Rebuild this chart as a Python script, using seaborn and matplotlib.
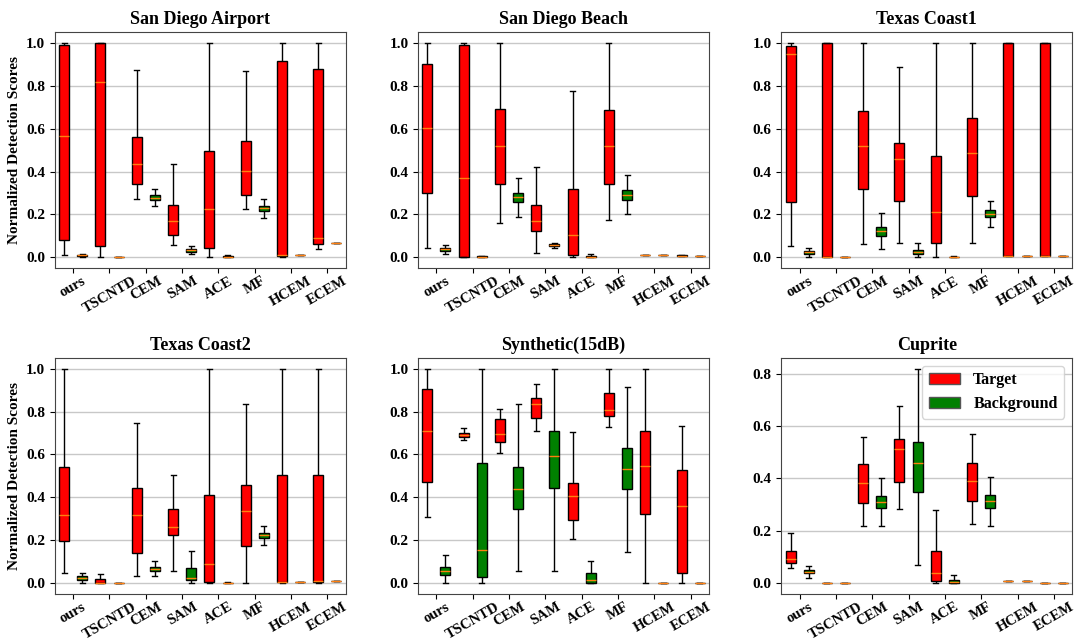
import pandas as pd
import matplotlib
matplotlib.use("Agg")
import matplotlib.pyplot as plt
from matplotlib.patches import Patch
import seaborn as sns

methods = ["ours", "TSCNTD", "CEM", "SAM", "ACE", "MF", "HCEM", "ECEM"]
groups = ["Target", "Background"]

# each entry: [whisker low, q1, median, q3, whisker high]
sd_airport_target = [
    [0.011, 0.083, 0.564, 0.991, 1.0],
    [0.0, 0.054, 0.816, 1.0, 1.0],
    [0.273, 0.344, 0.437, 0.563, 0.873],
    [0.06, 0.103, 0.169, 0.244, 0.436],
    [0.0, 0.046, 0.225, 0.497, 1.0],
    [0.225, 0.291, 0.402, 0.544, 0.868],
    [0.0, 0.006, 0.01, 0.913, 1.0],
    [0.038, 0.064, 0.09, 0.876, 1.0],
]
sd_airport_background = [
    [0.003, 0.005, 0.009, 0.013, 0.016],
    [0.0, 0.0, 0.001, 0.001, 0.001],
    [0.239, 0.268, 0.279, 0.29, 0.317],
    [0.015, 0.026, 0.034, 0.04, 0.052],
    [0.0, 0.0, 0.003, 0.006, 0.009],
    [0.184, 0.216, 0.23, 0.239, 0.273],
    [0.009, 0.009, 0.009, 0.009, 0.009],
    [0.066, 0.066, 0.066, 0.066, 0.066],
]

sd_beach_target = [
    [0.044, 0.3, 0.604, 0.9, 1.0],
    [0.0, 0.0, 0.37, 0.991, 1.0],
    [0.16, 0.344, 0.518, 0.69, 1.0],
    [0.02, 0.123, 0.169, 0.242, 0.42],
    [0.0, 0.012, 0.104, 0.319, 0.776],
    [0.176, 0.342, 0.518, 0.687, 1.0],
    [0.011, 0.011, 0.011, 0.011, 0.011],
    [0.005, 0.006, 0.008, 0.01, 0.011],
]
sd_beach_background = [
    [0.017, 0.032, 0.04, 0.046, 0.06],
    [0.002, 0.003, 0.004, 0.005, 0.006],
    [0.19, 0.256, 0.281, 0.302, 0.37],
    [0.045, 0.051, 0.057, 0.061, 0.069],
    [0.0, 0.0, 0.004, 0.008, 0.018],
    [0.2, 0.268, 0.291, 0.314, 0.385],
    [0.011, 0.011, 0.011, 0.011, 0.011],
    [0.006, 0.006, 0.006, 0.006, 0.006],
]

texas1_target = [
    [0.052, 0.256, 0.949, 0.986, 1.0],
    [0.0, 0.0, 0.001, 1.0, 1.0],
    [0.061, 0.317, 0.518, 0.683, 1.0],
    [0.066, 0.261, 0.457, 0.531, 0.885],
    [0.0, 0.066, 0.213, 0.471, 1.0],
    [0.066, 0.285, 0.485, 0.65, 1.0],
    [0.005, 0.006, 0.006, 1.0, 1.0],
    [0.005, 0.006, 0.006, 1.0, 1.0],
]
texas1_background = [
    [0.003, 0.017, 0.023, 0.031, 0.044],
    [0.0, 0.0, 0.0, 0.0, 0.0],
    [0.037, 0.101, 0.123, 0.143, 0.209],
    [0.003, 0.015, 0.026, 0.035, 0.066],
    [0.0, 0.002, 0.003, 0.004, 0.006],
    [0.14, 0.187, 0.202, 0.219, 0.265],
    [0.006, 0.006, 0.006, 0.006, 0.006],
    [0.006, 0.006, 0.006, 0.006, 0.006],
]

texas2_target = [
    [0.049, 0.199, 0.316, 0.543, 1.0],
    [0.0, 0.0, 0.002, 0.021, 0.041],
    [0.034, 0.143, 0.319, 0.445, 0.745],
    [0.055, 0.227, 0.262, 0.345, 0.503],
    [0.0, 0.008, 0.092, 0.413, 1.0],
    [0.0, 0.172, 0.336, 0.46, 0.833],
    [0.0, 0.006, 0.008, 0.503, 1.0],
    [0.0, 0.006, 0.009, 0.503, 1.0],
]
texas2_background = [
    [0.002, 0.017, 0.023, 0.032, 0.049],
    [0.0, 0.0, 0.0, 0.0, 0.0],
    [0.034, 0.058, 0.067, 0.077, 0.104],
    [0.0, 0.015, 0.025, 0.072, 0.152],
    [0.0, 0.0, 0.001, 0.003, 0.006],
    [0.178, 0.212, 0.225, 0.233, 0.267],
    [0.008, 0.008, 0.008, 0.008, 0.008],
    [0.009, 0.009, 0.009, 0.009, 0.009],
]

synthetic_target = [
    [0.311, 0.471, 0.709, 0.906, 1.0],
    [0.667, 0.683, 0.692, 0.699, 0.721],
    [0.607, 0.656, 0.695, 0.764, 0.814],
    [0.707, 0.771, 0.833, 0.863, 0.926],
    [0.206, 0.294, 0.408, 0.468, 0.706],
    [0.73, 0.781, 0.807, 0.887, 1.0],
    [0.0, 0.322, 0.546, 0.709, 1.0],
    [0.0, 0.049, 0.359, 0.529, 0.732],
]
synthetic_background = [
    [0.0, 0.04, 0.055, 0.077, 0.133],
    [0.0, 0.028, 0.153, 0.558, 1.0],
    [0.055, 0.348, 0.437, 0.541, 0.833],
    [0.058, 0.446, 0.595, 0.707, 1.0],
    [0.0, 0.0, 0.015, 0.046, 0.106],
    [0.147, 0.437, 0.534, 0.629, 0.913],
    [0.0, 0.0, 0.0, 0.0, 0.0],
    [0.0, 0.0, 0.0, 0.0, 0.0],
]

cuprite_target = [
    [0.057, 0.079, 0.092, 0.124, 0.192],
    [0.0, 0.0, 0.0, 0.0, 0.0],
    [0.22, 0.308, 0.384, 0.456, 0.559],
    [0.284, 0.386, 0.512, 0.551, 0.678],
    [0.0, 0.009, 0.041, 0.124, 0.281],
    [0.226, 0.314, 0.39, 0.46, 0.569],
    [0.008, 0.008, 0.008, 0.008, 0.008],
    [0.0, 0.0, 0.0, 0.0, 0.0],
]
cuprite_background = [
    [0.02, 0.038, 0.044, 0.05, 0.067],
    [0.0, 0.0, 0.0, 0.0, 0.0],
    [0.217, 0.286, 0.309, 0.334, 0.403],
    [0.069, 0.35, 0.46, 0.538, 0.819],
    [0.0, 0.002, 0.006, 0.014, 0.033],
    [0.217, 0.286, 0.314, 0.335, 0.406],
    [0.008, 0.008, 0.008, 0.008, 0.008],
    [0.0, 0.0, 0.0, 0.0, 0.0],
]

panels = [
    ("San Diego Airport", sd_airport_target, sd_airport_background),
    ("San Diego Beach", sd_beach_target, sd_beach_background),
    ("Texas Coast1", texas1_target, texas1_background),
    ("Texas Coast2", texas2_target, texas2_background),
    ("Synthetic(15dB)", synthetic_target, synthetic_background),
    ("Cuprite", cuprite_target, cuprite_background),
]

plt.rcParams["font.family"] = ["Liberation Serif", "DejaVu Serif"]
plt.rcParams["font.weight"] = "bold"
plt.rcParams["axes.titleweight"] = "bold"
plt.rcParams["axes.labelweight"] = "bold"

palette = {"Target": "red", "Background": "green"}

fig, axes = plt.subplots(2, 3, figsize=(10.84, 6.43), dpi=100)
fig.subplots_adjust(left=55 / 1084, right=1072 / 1084, top=1 - 32 / 643,
                    bottom=1 - 594 / 643, wspace=0.25, hspace=0.38)

for ax, (title, target, background) in zip(axes.flat, panels):
    rows = []
    for m, t, b in zip(methods, target, background):
        for v in t:
            rows.append({"method": m, "group": "Target", "score": v})
        for v in b:
            rows.append({"method": m, "group": "Background", "score": v})
    df = pd.DataFrame(rows)

    sns.boxplot(data=df, x="method", y="score", hue="group", order=methods,
                hue_order=groups, palette=palette, saturation=1,
                whis=(0, 100), showfliers=False, width=1.0, gap=0.45,
                linecolor="black", linewidth=1,
                medianprops={"color": "#ff7f0e", "linewidth": 1},
                legend=False, ax=ax)

    ax.set_axisbelow(True)
    ax.yaxis.grid(True, color="#c8c8c8", linewidth=1)
    ax.set_title(title, fontsize=13, fontweight="bold")
    ax.set_xlabel("")
    ax.set_ylabel("")
    ax.tick_params(axis="x", labelrotation=30, labelsize=10.5, pad=1)
    ax.tick_params(axis="y", labelsize=11)
    for spine in ax.spines.values():
        spine.set_color("#444444")

axes[0, 0].set_ylabel("Normalized Detection Scores", fontsize=11)
axes[1, 0].set_ylabel("Normalized Detection Scores", fontsize=11)

handles = [Patch(facecolor="red", edgecolor="#555555", label="Target"),
           Patch(facecolor="green", edgecolor="#555555", label="Background")]
axes[1, 2].legend(handles=handles, loc="upper right", fontsize=11.5)

fig.savefig("out.png", dpi=100)
